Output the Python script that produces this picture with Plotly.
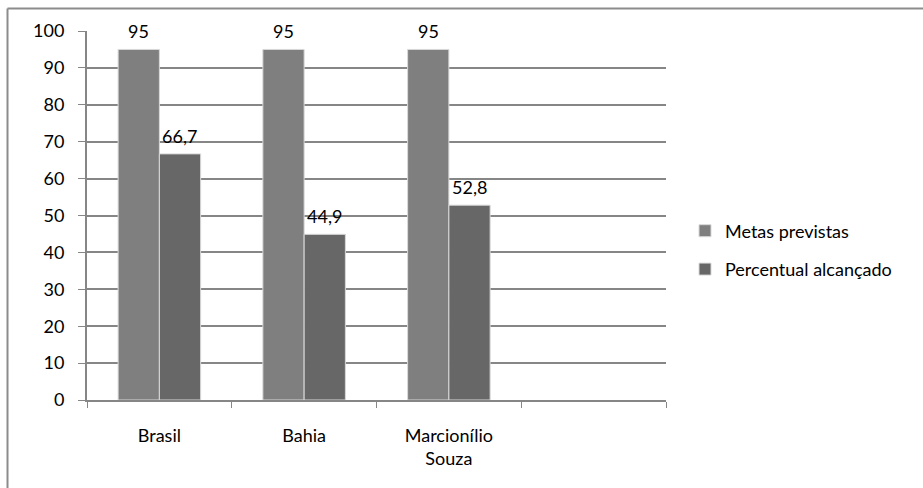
import plotly.graph_objects as go

# Categories (the fourth slot is left empty on purpose)
categorias = ["Brasil", "Bahia", "Marcionílio<br>Souza", " "]
metas_previstas = [95, 95, 95, None]
percentual_alcancado = [66.7, 44.9, 52.8, None]

cor_metas = "#7f7f7f"
cor_percentual = "#676767"
fonte = "Lato"
tam = 18

W, H = 923, 488
L, R, T, B = 87, 257, 31, 88
pw, ph = W - L - R, H - T - B

series = [
    ("Metas previstas", metas_previstas, cor_metas, -20.5),
    ("Percentual alcançado", percentual_alcancado, cor_percentual, 20.5),
]

fig = go.Figure()
for nome, vals, cor, desloc in series:
    fig.add_trace(go.Bar(
        x=categorias, y=vals, name=nome, legendgroup=nome,
        marker=dict(color=cor, line=dict(color="#d9d9d9", width=1)),
    ))
    # value labels above each bar
    for cat, v in zip(categorias, vals):
        if v is None:
            continue
        fig.add_annotation(
            x=cat, y=v, xref="x", yref="y", xshift=desloc, yshift=5,
            text=f"{v:g}".replace(".", ","), showarrow=False,
            yanchor="bottom", xanchor="center",
            font=dict(family=fonte, size=tam, color="#000000"),
        )

def px_x(x):
    return (x - L) / pw

def px_y(y):
    return (H - B - y) / ph

# Outer frame (left and top edges)
fig.add_shape(type="line", xref="paper", yref="paper",
              x0=px_x(7.5), x1=px_x(W + 5), y0=px_y(8.5), y1=px_y(8.5),
              line=dict(color="#8c8c8c", width=2))
fig.add_shape(type="line", xref="paper", yref="paper",
              x0=px_x(7.5), x1=px_x(7.5), y0=px_y(8.5), y1=px_y(H + 5),
              line=dict(color="#8c8c8c", width=2))

fig.update_layout(
    width=W, height=H,
    margin=dict(l=L, r=R, t=T, b=B),
    paper_bgcolor="white", plot_bgcolor="white",
    barmode="group", bargap=0.43, bargroupgap=0,
    font=dict(family=fonte, size=tam, color="#000000"),
    legend=dict(x=px_x(685), y=px_y(250), xanchor="left", yanchor="middle",
                font=dict(family=fonte, size=tam), tracegroupgap=12,
                itemwidth=30, bgcolor="rgba(0,0,0,0)"),
    showlegend=True,
)
fig.update_xaxes(
    type="category", categoryorder="array", categoryarray=categorias,
    range=[-0.5, 3.5], tickson="boundaries", ticks="outside", ticklen=6,
    tickcolor="#868686", showline=True, linecolor="#868686", linewidth=2,
    showgrid=False, tickfont=dict(family=fonte, size=tam),
    ticklabelstandoff=18,
)
fig.update_yaxes(
    range=[0, 100], dtick=10, ticks="outside", ticklen=7, tickcolor="#868686",
    showline=True, linecolor="#868686", linewidth=2,
    showgrid=True, gridcolor="#868686", gridwidth=2,
    zeroline=False, tickfont=dict(family=fonte, size=tam),
    ticklabelstandoff=10,
)

fig.write_html("out.html")
